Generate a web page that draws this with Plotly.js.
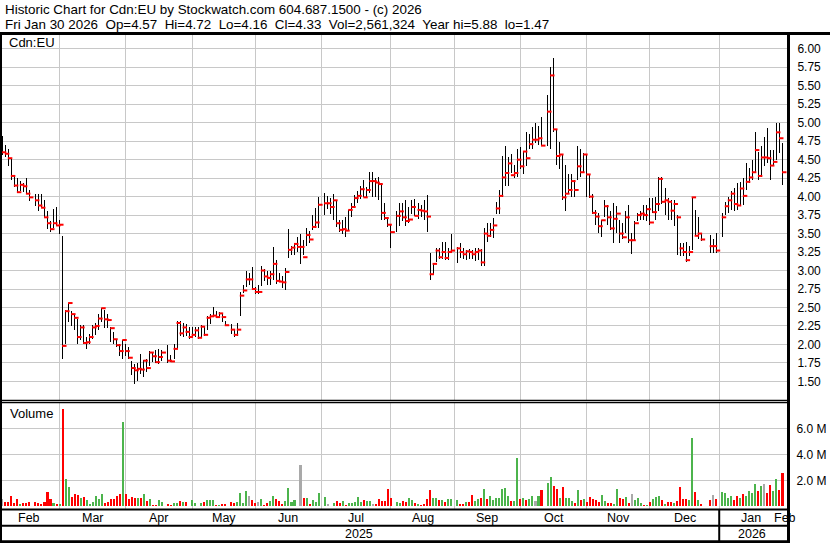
<!DOCTYPE html>
<html><head><meta charset="utf-8">
<script src="https://cdn.plot.ly/plotly-3.0.1.min.js"></script>
<style>html,body{margin:0;padding:0;background:#fff;}#chart{width:830px;height:543px;}
#chart g.errorbar path{shape-rendering:crispEdges;}</style>
</head><body><div id="chart"></div>
<script>
// ---------------- DATA (weekday slots from Feb 3 2025 to Jan 30 2026; null = holiday) -------------
const startDate = '2025-02-03';
const high = [
4.82,4.70,4.64,4.52,4.28,4.25,4.21,4.19,4.25,4.09,
null,4.03,4.03,4.04,3.96,3.80,3.67,3.83,3.86,3.69,
3.47,2.47,2.56,2.45,2.40,2.34,2.26,2.26,2.10,2.14,
2.26,2.29,2.41,2.49,2.46,2.41,2.24,2.17,2.08,2.00,
2.06,2.00,1.97,1.78,1.74,1.75,1.87,1.79,1.80,1.91,
1.89,1.92,1.94,1.92,null,1.99,1.86,2.00,2.32,2.32,
2.29,2.28,2.23,2.23,2.24,2.24,2.26,2.24,2.39,2.41,
2.50,2.45,2.44,2.41,2.32,null,2.27,2.21,2.29,2.71,
2.80,3.00,2.96,3.05,2.78,2.80,3.06,3.02,2.99,2.99,
3.32,3.14,2.96,2.92,3.03,3.56,3.33,3.37,3.46,3.50,
3.41,3.57,3.53,3.75,3.84,3.99,null,4.05,4.01,3.98,
4.04,3.95,3.68,3.69,3.73,3.82,3.91,4.02,4.08,4.15,
4.23,4.13,4.34,4.33,4.25,4.26,4.18,3.91,3.73,3.62,
null,3.81,3.91,3.91,3.95,3.86,3.96,3.97,3.91,3.89,
3.95,4.02,3.24,3.10,3.31,3.31,3.38,3.38,3.30,3.49,
null,3.32,3.37,3.31,3.28,3.29,3.28,3.30,3.30,3.29,
3.57,3.64,3.64,3.71,3.93,4.09,4.55,4.69,4.54,4.58,
4.43,4.64,4.67,4.62,4.87,4.85,4.94,5.00,4.95,5.08,
null,5.38,5.75,5.88,4.91,4.74,4.57,4.43,4.30,4.30,
4.23,4.69,4.64,4.59,4.57,4.30,4.03,3.82,3.78,3.69,
3.96,3.89,3.80,3.91,3.87,3.69,3.64,3.80,3.89,3.51,
3.67,3.78,3.80,3.89,3.88,3.98,3.98,4.00,4.27,4.26,
4.11,3.98,3.96,3.96,3.75,3.37,3.37,3.39,3.33,4.00,
3.82,3.73,3.51,null,null,3.48,3.42,3.51,null,3.78,
3.93,4.00,4.07,4.11,4.18,4.20,4.25,4.45,4.39,4.50,
4.88,4.61,4.68,4.81,4.93,4.63,4.63,5.00,4.99,4.72];
const low = [
4.56,4.53,4.42,4.23,4.13,4.05,4.07,4.06,4.04,3.94,
null,3.87,3.81,3.85,3.71,3.56,3.52,3.57,3.61,3.49,
1.80,2.00,2.30,2.25,2.20,2.00,2.06,2.00,1.94,2.00,
2.07,2.13,2.20,2.30,2.22,2.22,2.03,2.00,1.96,1.84,
1.80,1.84,1.80,1.58,1.47,1.51,1.60,1.56,1.63,1.71,
1.76,1.75,1.73,1.78,null,1.75,1.76,1.80,1.94,2.12,
2.10,2.12,2.08,2.10,2.10,2.08,2.10,2.12,2.19,2.28,
2.37,2.36,2.36,2.30,2.25,null,2.14,2.10,2.12,2.39,
2.69,2.78,2.80,2.74,2.68,2.68,2.79,2.86,2.81,2.81,
2.87,2.82,2.84,2.76,2.74,3.17,3.21,3.21,3.25,3.09,
3.21,3.33,3.37,3.55,3.57,3.57,null,3.75,3.83,3.77,
3.68,3.59,3.52,3.50,3.46,3.55,3.73,3.84,3.91,3.97,
4.00,4.00,4.05,4.00,4.00,3.96,3.68,3.68,3.59,3.31,
null,3.52,3.60,3.67,3.60,3.64,3.76,3.74,3.70,3.73,
3.69,3.52,2.87,2.95,3.11,3.15,3.15,3.14,3.14,3.24,
null,3.10,3.17,3.15,3.14,3.15,3.16,3.13,3.14,3.06,
3.06,3.39,3.46,3.44,3.76,3.76,4.00,4.14,4.14,4.32,
4.25,4.27,4.37,4.30,4.41,4.64,4.64,4.73,4.70,4.68,
null,4.69,4.64,4.88,4.43,4.37,3.95,3.80,4.03,4.00,
4.00,4.23,4.27,4.34,4.00,3.98,3.76,3.62,3.51,3.46,
3.73,3.62,3.55,3.37,3.51,3.37,3.42,3.51,3.37,3.22,
3.40,3.67,3.69,3.69,3.67,3.62,3.78,3.68,3.80,3.90,
3.75,3.69,3.69,3.60,3.21,3.20,3.19,3.12,3.19,3.28,
3.47,3.42,3.40,null,null,3.24,3.24,3.24,null,3.46,
3.75,3.78,3.82,3.80,3.82,3.87,3.89,4.09,4.18,4.23,
4.34,4.23,4.27,4.41,4.45,4.23,4.41,4.50,4.59,4.16];
const close = [
4.60,4.58,4.52,4.28,4.15,4.06,4.16,4.14,4.04,3.99,
null,3.95,3.88,3.85,3.72,3.64,3.56,3.64,3.61,3.62,
1.98,2.45,2.56,2.41,2.36,2.10,2.23,2.02,2.03,2.10,
2.23,2.25,2.35,2.49,2.34,2.33,2.22,2.07,1.99,1.91,
2.06,1.91,1.82,1.68,1.65,1.67,1.66,1.78,1.68,1.89,
1.84,1.76,1.83,1.89,null,1.78,1.77,1.94,2.29,2.15,
2.23,2.17,2.10,2.13,2.19,2.09,2.24,2.13,2.36,2.38,
2.39,2.37,2.42,2.37,2.26,null,2.20,2.13,2.20,2.66,
2.73,2.88,2.88,2.75,2.71,2.71,3.00,2.92,2.90,2.95,
3.09,2.86,2.85,2.84,2.98,3.28,3.31,3.36,3.32,3.32,
3.18,3.48,3.42,3.59,3.65,3.89,null,3.91,3.91,3.86,
3.95,3.64,3.55,3.56,3.54,3.82,3.86,3.98,4.01,4.10,
3.99,4.09,4.21,4.21,4.19,4.17,3.78,3.71,3.62,3.52,
null,3.74,3.80,3.72,3.67,3.69,3.86,3.74,3.82,3.81,
3.80,3.73,2.95,3.09,3.27,3.18,3.25,3.17,3.25,3.27,
null,3.30,3.25,3.22,3.26,3.25,3.22,3.25,3.27,3.11,
3.50,3.47,3.55,3.61,3.84,4.01,4.26,4.32,4.45,4.29,
4.32,4.50,4.41,4.61,4.52,4.71,4.77,4.77,4.79,4.69,
null,5.15,5.64,4.91,4.55,4.57,3.99,4.04,4.09,4.21,
4.09,4.41,4.33,4.57,4.30,4.00,3.78,3.73,3.60,3.68,
3.87,3.72,3.57,3.70,3.77,3.50,3.45,3.72,3.41,3.41,
3.64,3.75,3.77,3.75,3.83,3.65,3.79,3.90,4.24,3.93,
3.95,3.93,3.81,3.90,3.72,3.30,3.25,3.14,3.25,3.99,
3.47,3.50,3.42,null,null,3.33,3.33,3.27,null,3.72,
3.87,3.95,4.04,3.90,3.88,4.11,4.01,4.20,4.26,4.33,
4.63,4.28,4.53,4.53,4.52,4.42,4.47,4.87,4.79,4.33];
// volume in millions of shares
const volumeM = [
0.56,0.36,0.36,0.79,0.30,0.56,0.22,0.30,0.25,0.36,
null,0.36,0.30,0.22,0.36,1.10,0.55,0.28,0.22,0.17,
7.48,2.10,1.48,0.72,0.95,0.87,0.64,0.72,0.50,0.20,
0.36,0.79,0.59,0.95,0.25,0.36,0.55,0.59,0.79,0.95,
6.50,0.95,0.56,0.72,0.64,0.64,0.64,0.95,0.41,0.59,
0.10,0.10,0.48,0.33,null,0.18,0.10,0.25,0.25,0.41,
0.33,0.33,0.05,0.48,0.25,0.05,0.25,0.33,0.48,0.48,
0.48,0.12,0.12,0.15,0.15,null,0.33,0.25,0.33,1.02,
0.25,1.18,0.79,0.48,0.25,0.33,0.56,0.10,0.25,0.41,
0.79,0.56,0.41,0.18,0.41,1.41,0.33,0.48,0.05,3.20,
0.64,0.64,0.18,0.48,0.33,1.02,null,0.72,0.18,0.05,
0.25,0.41,0.25,0.41,0.10,0.25,0.25,0.33,0.72,0.33,
0.48,0.41,0.41,0.18,0.18,0.56,0.41,0.41,1.33,0.64,
null,0.33,0.25,0.41,0.33,0.64,0.48,0.25,0.18,0.10,
0.15,0.56,1.26,0.64,0.64,0.49,0.49,0.36,0.56,0.56,
null,0.49,0.18,0.18,0.36,0.36,0.87,0.41,0.56,0.64,
1.33,0.56,0.79,0.49,0.64,0.64,1.33,1.41,0.77,0.41,
0.41,3.72,0.56,0.64,0.49,0.56,0.79,0.41,0.79,1.26,
null,1.79,2.26,1.56,1.33,0.64,1.49,0.64,0.64,0.41,
0.26,1.26,0.49,0.56,0.33,0.72,0.56,0.49,0.33,0.87,
0.41,0.26,0.26,0.18,1.33,0.64,0.56,0.72,0.26,0.95,
0.49,0.64,0.26,0.08,0.10,0.36,0.56,0.72,0.79,0.49,
0.18,0.33,0.33,0.26,0.41,1.49,0.56,0.56,0.49,5.26,
1.10,0.49,0.18,null,null,0.49,0.87,0.56,null,1.10,
1.03,0.64,0.79,0.49,0.79,0.64,0.95,0.79,1.18,1.03,
1.72,1.18,1.56,1.72,1.03,1.64,1.18,2.10,1.26,2.561324];

const monthLabels = ['Feb','Mar','Apr','May','Jun','Jul','Aug','Sep','Oct','Nov','Dec','Jan','Feb'];
const yearLabels = ['2025','2026'];
const priceTicks = [1.50,1.75,2.00,2.25,2.50,2.75,3.00,3.25,3.50,3.75,4.00,4.25,4.50,4.75,5.00,5.25,5.50,5.75,6.00];
const volTicks = [2,4,6];
const volTickText = ['2.0 M','4.0 M','6.0 M'];
const headerLine1 = 'Historic Chart for Cdn:EU by Stockwatch.com 604.687.1500 - (c) 2026';
const headerLine2 = 'Fri Jan 30 2026  Op=4.57  Hi=4.72  Lo=4.16  Cl=4.33  Vol=2,561,324  Year hi=5.88  lo=1.47';
const symbolLabel = 'Cdn:EU';
const volumeLabel = 'Volume';

// ---------------- LAYOUT HELPERS ----------------
const PL = 2, PR = 787, PT = 35, PB = 509;
const px = x => (x - PL) / (PR - PL);
const py = y => (PB - y) / (PB - PT);
const FONT = 'Liberation Sans, Arial, sans-serif';
const nbsp = s => s.replace(/ /g, '\u00a0');

const n = close.length;
const idx = Array.from({length: n}, (_, i) => i);

// weekday calendar
const dates = [];
{
  const d = new Date(startDate + 'T00:00:00Z');
  while (dates.length < n + 1) {
    const wd = d.getUTCDay();
    if (wd !== 0 && wd !== 6) dates.push(new Date(d));
    d.setUTCDate(d.getUTCDate() + 1);
  }
}
// month boundary index: the 1st if a weekday, otherwise the preceding Friday
const bounds = [];
bounds.push(dates[0].getUTCDate() === 1 ? 0 : -1);
let janBound = null;
for (let i = 1; i <= n; i++) {
  if (dates[i].getUTCMonth() !== dates[i - 1].getUTCMonth()) {
    const b = dates[i].getUTCDate() === 1 ? i : i - 1;
    bounds.push(b);
    if (dates[i].getUTCMonth() === 0) janBound = b;
  }
}
const gridVals = bounds.filter(b => b > 0 && b < n - 1);

// ---------------- TRACES ----------------
const errPlus = close.map((c, i) => c == null ? null : +(high[i] - c).toFixed(3));
const errMinus = close.map((c, i) => c == null ? null : +(c - low[i]).toFixed(3));

const hlTrace = {
  type: 'scatter', mode: 'markers', x: idx, y: close, xaxis: 'x', yaxis: 'y',
  marker: {size: 2, color: 'rgba(0,0,0,0)'},
  error_y: {type: 'data', symmetric: false, array: errPlus, arrayminus: errMinus,
            width: 0, thickness: 1, color: '#000'},
  hoverinfo: 'skip'
};
const closeOffset = 0.58;
const closeTrace = {
  type: 'scatter', mode: 'markers', x: idx.map(i => i + closeOffset), y: close,
  xaxis: 'x', yaxis: 'y',
  marker: {symbol: 'line-ew', size: 3.2, line: {width: 2, color: '#ff0000'}, color: '#ff0000'},
  hoverinfo: 'skip'
};
// volume colours: up = green, down = red, unchanged = grey
const volColors = [];
let prev = null;
for (let i = 0; i < n; i++) {
  const c = close[i];
  if (c == null) { volColors.push('#aaaaaa'); continue; }
  if (prev == null || c === prev) volColors.push('#a9a9a9');
  else volColors.push(c > prev ? '#4cb44c' : '#ff0000');
  prev = c;
}
const volTrace = {
  type: 'bar', x: idx, y: volumeM, xaxis: 'x2', yaxis: 'y2',
  marker: {color: volColors, line: {width: 0}}, width: 0.68, hoverinfo: 'skip'
};

// ---------------- SHAPES & ANNOTATIONS ----------------
const hline = (y, x0, x1, w) => ({type: 'line', xref: 'paper', yref: 'paper',
  x0: px(x0), x1: px(x1), y0: py(y), y1: py(y), line: {color: '#000', width: w}});
const vline = (x, y0, y1, w) => ({type: 'line', xref: 'paper', yref: 'paper',
  x0: px(x), x1: px(x), y0: py(y0), y1: py(y1), line: {color: '#000', width: w}});
const shapes = [
  hline(33.5, 0, 830, 3),
  vline(1, 33, 543, 2),
  vline(788.5, 33, 543, 3),
  hline(400.5, 0, 789, 1.3),
  hline(402.6, 0, 789, 1.3),
  hline(509.5, 0, 789, 2),
  hline(525.8, 0, 789, 2),
  hline(541.8, 0, 789, 3),
  {type: 'line', xref: 'x2', yref: 'paper', x0: janBound, x1: janBound,
   y0: py(509), y1: py(543), line: {color: '#000', width: 2}}
];

const ann = [];
const txt = (text, x, y, size, xanchor, xref) => ({text: nbsp(text), x: x, y: y,
  xref: xref || 'paper', yref: 'paper', xanchor: xanchor || 'left', yanchor: 'middle',
  showarrow: false, font: {family: FONT, size: size, color: '#000'}});
ann.push(txt(headerLine1, px(3), py(9.5), 13.4));
ann.push(txt(headerLine2, px(3), py(24.5), 13.4));
ann.push(txt(symbolLabel, px(7), py(42.5), 13));
ann.push(txt(volumeLabel, px(8), py(413), 13));
for (let k = 0; k < bounds.length - 1; k++) {
  ann.push(txt(monthLabels[k], (bounds[k] + bounds[k + 1]) / 2, py(518), 12.5, 'center', 'x2'));
}
ann.push(txt(monthLabels[monthLabels.length - 1], bounds[bounds.length - 1] + 1, py(518), 12.5, 'center', 'x2'));
ann.push(txt(yearLabels[0], (bounds[0] + janBound) / 2, py(534), 12.5, 'center', 'x2'));
ann.push(txt(yearLabels[1], (janBound + n) / 2, py(534), 12.5, 'center', 'x2'));

const xRange = [-0.1, 260.5];
const xBase = {range: xRange, tickmode: 'array', tickvals: gridVals, showticklabels: false,
  showgrid: true, gridcolor: '#c8c8c8', gridwidth: 1, zeroline: false, ticks: '',
  showline: false, fixedrange: true};

const layout = {
  width: 830, height: 543,
  margin: {l: PL, r: 830 - PR, t: PT, b: 543 - PB, pad: 0},
  paper_bgcolor: '#ffffff', plot_bgcolor: '#ffffff', showlegend: false,
  font: {family: FONT, size: 12, color: '#000'},
  xaxis: Object.assign({}, xBase, {domain: [0, 1], anchor: 'y'}),
  xaxis2: Object.assign({}, xBase, {domain: [0, 1], anchor: 'y2'}),
  yaxis: {domain: [py(400), 1], range: [1.248, 6.187], side: 'right', anchor: 'x',
    tickmode: 'array', tickvals: priceTicks, ticktext: priceTicks.map(v => v.toFixed(2)),
    showgrid: true, gridcolor: '#c8c8c8', zeroline: false, ticks: 'outside', ticklen: 7,
    tickcolor: 'rgba(0,0,0,0)', tickfont: {size: 12, family: FONT, color: '#000'}, fixedrange: true},
  yaxis2: {domain: [0, py(403)], range: [-0.2, 7.95], side: 'right', anchor: 'x2',
    tickmode: 'array', tickvals: volTicks, ticktext: volTickText,
    showgrid: true, gridcolor: '#c8c8c8', zeroline: false, ticks: 'outside', ticklen: 6,
    tickcolor: 'rgba(0,0,0,0)', tickfont: {size: 12, family: FONT, color: '#000'}, fixedrange: true},
  shapes: shapes, annotations: ann, bargap: 0
};

Plotly.newPlot('chart', [volTrace, hlTrace, closeTrace], layout, {staticPlot: true, displayModeBar: false});
</script>
</body></html>
